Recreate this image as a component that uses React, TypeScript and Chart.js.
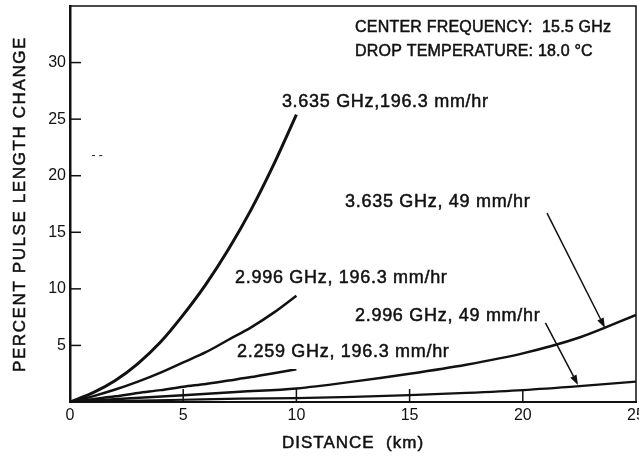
import React, { useEffect, useRef } from "react";
import { Chart, registerables } from "chart.js";

Chart.register(...registerables);

// ---------- data ----------
const distanceShort = [0, 1, 2, 3, 4, 5, 6, 7, 8, 9, 10];
const distanceLong = [0, 2.5, 5, 7.5, 10, 12.5, 15, 17.5, 20, 22.5, 25];

const pct3635_1963 = [0, 0.8, 1.9, 3.4, 5.3, 7.7, 10.4, 13.5, 17.0, 21.0, 25.4];
const pct2996_1963 = [0, 0.5, 1.1, 1.8, 2.6, 3.5, 4.4, 5.5, 6.6, 7.9, 9.4];
const pct2259_1963 = [0, 0.25, 0.5, 0.8, 1.05, 1.35, 1.6, 1.9, 2.2, 2.55, 2.9];
const pct3635_49 = [0, 0.3, 0.6, 0.9, 1.2, 1.8, 2.5, 3.3, 4.3, 5.7, 7.7];
const pct2996_49 = [0, 0.1, 0.2, 0.3, 0.35, 0.45, 0.6, 0.8, 1.05, 1.4, 1.8];

const xMin = 0;
const xMax = 25;
const xStep = 5;
const yMin = 0;
const yMax = 35;
const yStep = 5;
const yLabelMax = 30;

const xAxisTitle = "DISTANCE  (km)";
const yAxisTitle = "PERCENT PULSE LENGTH CHANGE";

// header texts (upper-case lettering)
const headerTexts = ["CENTER FREQUENCY:  15.5 GHz", "DROP TEMPERATURE: 18.0 °C"];
const headerX = [12.59, 12.59];
const headerY = [33.1, 31.0];

// curve labels, anchored in data coordinates
const curveLabels = [
  "3.635 GHz,196.3 mm/hr",
  "2.996 GHz, 196.3 mm/hr",
  "2.259 GHz, 196.3 mm/hr",
  "3.635 GHz, 49 mm/hr",
  "2.996 GHz, 49 mm/hr",
];
const curveLabelX = [9.36, 7.29, 7.38, 12.15, 12.59];
const curveLabelY = [26.5, 11.0, 4.4, 17.7, 7.6];

// stray mark in the scan
const strayText = "- -";
const strayX = 0.95;
const strayY = 21.8;

// arrows: from label to curve (data coordinates)
const arrowFromX = [21.07, 21.0];
const arrowFromY = [16.7, 7.0];
const arrowToX = [23.63, 22.44];
const arrowToY = [6.55, 1.5];

const FONT = "'Liberation Sans', Arial, sans-serif";
const INK = "#111";

function toPoints(xs: number[], ys: number[]) {
  return xs.map((x, i) => ({ x, y: ys[i] }));
}

function setSpacing(ctx: any, v: string) {
  try {
    ctx.letterSpacing = v;
  } catch (e) {}
}

function zeroPadding(s: any) {
  s.paddingTop = 0;
  s.paddingBottom = 0;
  s.paddingLeft = 0;
  s.paddingRight = 0;
}

function heavyText(ctx: CanvasRenderingContext2D, txt: string, x: number, y: number) {
  ctx.fillText(txt, x, y);
  ctx.strokeText(txt, x, y);
}

const decorPlugin = {
  id: "decor",
  beforeDraw(chart: any) {
    const { ctx, width, height } = chart;
    ctx.save();
    ctx.fillStyle = "#fff";
    ctx.fillRect(0, 0, width, height);
    ctx.restore();
  },
  afterDraw(chart: any) {
    const { ctx, chartArea: ca, scales } = chart;
    const xs = scales.x;
    const ys = scales.y;
    ctx.save();
    ctx.strokeStyle = INK;
    ctx.fillStyle = INK;

    // top and right frame
    ctx.lineWidth = 1.5;
    ctx.beginPath();
    ctx.moveTo(ca.left, ca.top);
    ctx.lineTo(ca.right, ca.top);
    ctx.lineTo(ca.right, ca.bottom);
    ctx.stroke();

    // inward tick marks
    ctx.lineWidth = 1.5;
    ys.ticks.forEach((t: any) => {
      if (t.value <= yMin || t.value > yLabelMax) return;
      const py = ys.getPixelForValue(t.value);
      ctx.beginPath();
      ctx.moveTo(ca.left, py);
      ctx.lineTo(ca.left + 11, py);
      ctx.stroke();
    });
    xs.ticks.forEach((t: any) => {
      if (t.value <= xMin || t.value >= xMax) return;
      const px = xs.getPixelForValue(t.value);
      ctx.beginPath();
      ctx.moveTo(px, ca.bottom);
      ctx.lineTo(px, ca.bottom - 13);
      ctx.stroke();
    });

    ctx.textAlign = "left";
    ctx.textBaseline = "middle";
    ctx.lineWidth = 0.5;

    // header
    ctx.font = `16px ${FONT}`;
    setSpacing(ctx, "0.2px");
    headerTexts.forEach((txt, i) => {
      heavyText(ctx, txt, xs.getPixelForValue(headerX[i]), ys.getPixelForValue(headerY[i]));
    });

    // curve labels
    ctx.font = `18px ${FONT}`;
    setSpacing(ctx, "0.7px");
    curveLabels.forEach((txt, i) => {
      heavyText(ctx, txt, xs.getPixelForValue(curveLabelX[i]), ys.getPixelForValue(curveLabelY[i]));
    });
    setSpacing(ctx, "0px");

    // stray mark
    ctx.font = `12px ${FONT}`;
    ctx.fillText(strayText, xs.getPixelForValue(strayX), ys.getPixelForValue(strayY));

    // arrows
    ctx.lineWidth = 1.5;
    arrowFromX.forEach((_, i) => {
      const x1 = xs.getPixelForValue(arrowFromX[i]);
      const y1 = ys.getPixelForValue(arrowFromY[i]);
      const x2 = xs.getPixelForValue(arrowToX[i]);
      const y2 = ys.getPixelForValue(arrowToY[i]);
      const ang = Math.atan2(y2 - y1, x2 - x1);
      const len = 10;
      const hw = 3.5;
      const bx = x2 - len * Math.cos(ang);
      const by = y2 - len * Math.sin(ang);
      ctx.beginPath();
      ctx.moveTo(x1, y1);
      ctx.lineTo(bx, by);
      ctx.stroke();
      ctx.beginPath();
      ctx.moveTo(x2, y2);
      ctx.lineTo(bx + hw * Math.sin(ang), by - hw * Math.cos(ang));
      ctx.lineTo(bx - hw * Math.sin(ang), by + hw * Math.cos(ang));
      ctx.closePath();
      ctx.fill();
    });

    // axis titles
    ctx.lineWidth = 0.5;
    ctx.textAlign = "center";
    ctx.textBaseline = "middle";
    ctx.font = `17px ${FONT}`;
    setSpacing(ctx, "1px");
    heavyText(ctx, xAxisTitle, (ca.left + ca.right) / 2, 443);
    ctx.save();
    setSpacing(ctx, "1.6px");
    ctx.translate(20, (ca.top + ca.bottom) / 2);
    ctx.rotate(-Math.PI / 2);
    heavyText(ctx, yAxisTitle, 0, 0);
    ctx.restore();
    setSpacing(ctx, "0px");

    ctx.restore();
  },
};

export default function App() {
  const ref = useRef<HTMLCanvasElement | null>(null);

  useEffect(() => {
    document.body.style.margin = "0";
    if (!ref.current) return;
    const line = (xs: number[], ys: number[], w: number) => ({
      data: toPoints(xs, ys),
      borderColor: INK,
      borderWidth: w,
      pointRadius: 0,
      fill: false,
      tension: 0.4,
      cubicInterpolationMode: "monotone" as const,
    });
    const chart = new Chart(ref.current, {
      type: "line",
      data: {
        datasets: [
          line(distanceShort, pct3635_1963, 3),
          line(distanceShort, pct2996_1963, 2.5),
          line(distanceShort, pct2259_1963, 2.5),
          line(distanceLong, pct3635_49, 2.5),
          line(distanceLong, pct2996_49, 2.2),
        ],
      },
      options: {
        animation: false,
        responsive: true,
        maintainAspectRatio: false,
        layout: {
          autoPadding: false,
          padding: { top: 6, right: 3, left: 0, bottom: 0 },
        },
        plugins: {
          legend: { display: false },
          tooltip: { enabled: false },
        },
        scales: {
          x: {
            type: "linear",
            min: xMin,
            max: xMax,
            grid: { display: false, drawTicks: false },
            border: { display: true, color: INK, width: 2 },
            ticks: {
              stepSize: xStep,
              color: INK,
              padding: 4,
              maxRotation: 0,
              font: { family: FONT, size: 16 },
            },
            afterFit: (s: any) => {
              s.height = 56;
              zeroPadding(s);
            },
          },
          y: {
            type: "linear",
            min: yMin,
            max: yMax,
            grid: { display: false, drawTicks: false },
            border: { display: true, color: INK, width: 2.5 },
            ticks: {
              stepSize: yStep,
              color: INK,
              padding: 4,
              font: { family: FONT, size: 16 },
              callback: (v: any) =>
                Number(v) > yMin && Number(v) <= yLabelMax ? String(v) : "",
            },
            afterFit: (s: any) => {
              s.width = 70;
              zeroPadding(s);
            },
          },
        },
      },
      plugins: [decorPlugin],
    });
    return () => chart.destroy();
  }, []);

  return (
    <div style={{ width: 639, height: 458, position: "relative" }}>
      <canvas ref={ref} />
    </div>
  );
}
